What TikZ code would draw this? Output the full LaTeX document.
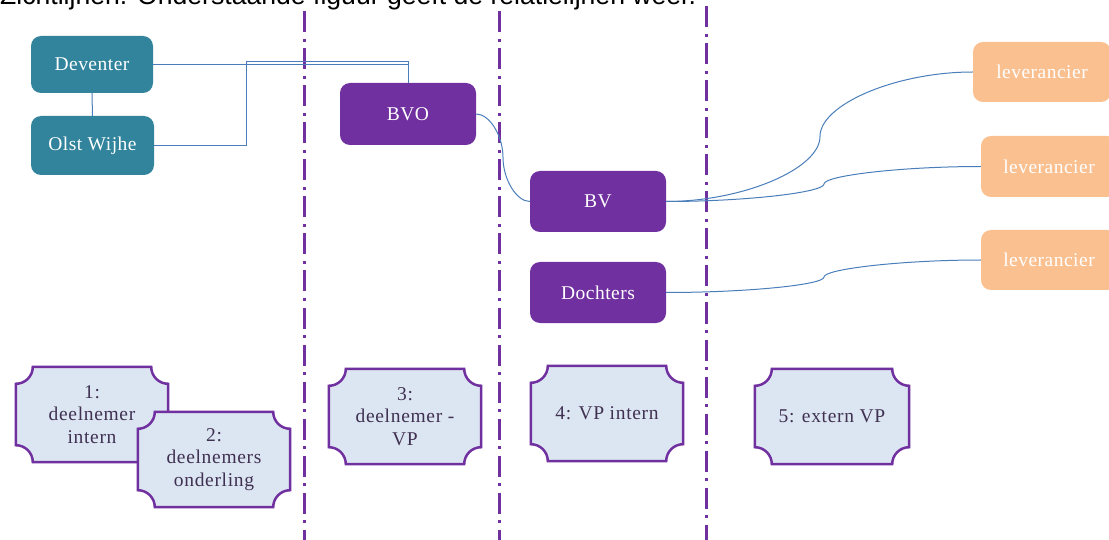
\documentclass[tikz,border=0pt]{standalone}
\usepackage{fontspec}
\setmainfont{Liberation Serif}
\newfontfamily\topfont{Liberation Sans}
\newfontfamily\lsfont[LetterSpace=2.5]{Liberation Serif}
\newfontfamily\plfont[LetterSpace=3.5]{Liberation Serif}
\usetikzlibrary{calc}
\definecolor{myteal}{HTML}{31849B}
\definecolor{mypurple}{HTML}{7030A0}
\definecolor{myorange}{HTML}{FAC090}
\definecolor{myblue}{HTML}{4A7EBB}
\definecolor{myfill}{HTML}{DCE6F2}
\definecolor{mytext}{HTML}{403152}
\tikzset{
  orgbox/.style={rounded corners=10pt, draw=none, text=white, inner sep=0pt,
    font=\lsfont\fontsize{19.5}{22}\selectfont},
  tealbox/.style={orgbox, fill=myteal},
  purplebox/.style={orgbox, fill=mypurple},
  orangebox/.style={orgbox, fill=myorange},
  link/.style={draw=myblue, line width=1pt},
  divider/.style={draw=mypurple, line width=3pt, dash pattern=on 21pt off 6.5pt on 3pt off 6.5pt},
  plq/.style={draw=mypurple, fill=myfill, line width=2.5pt},
  plqframe/.style={inner sep=0pt, minimum width=152pt, minimum height=95pt},
  plqtext/.style={text=mytext, align=center, inner sep=0pt,
    font=\plfont\fontsize{19.5}{22.5}\selectfont},
}
\newcommand\plaqueshape[1]{%
  \path[plq] let \p1=(#1.north west), \p2=(#1.south east) in
    (\x1+17pt,\y1) -- (\x2-17pt,\y1)
    .. controls (\x2-17pt,\y1-9.4pt) and (\x2-9.4pt,\y1-17pt) .. (\x2,\y1-17pt)
    -- (\x2,\y2+17pt)
    .. controls (\x2-9.4pt,\y2+17pt) and (\x2-17pt,\y2+9.4pt) .. (\x2-17pt,\y2)
    -- (\x1+17pt,\y2)
    .. controls (\x1+17pt,\y2+9.4pt) and (\x1+9.4pt,\y2+17pt) .. (\x1,\y2+17pt)
    -- (\x1,\y1-17pt)
    .. controls (\x1+9.4pt,\y1-17pt) and (\x1+17pt,\y1-9.4pt) .. (\x1+17pt,\y1)
    -- cycle;}
\begin{document}
\begin{tikzpicture}[x=1pt,y=-1pt]
\useasboundingbox (0,0) rectangle (1109,540);
\clip (0,0) rectangle (1109,540);
\fill[white] (0,0) rectangle (1109,540);

\node[anchor=base west, inner sep=0pt, font=\topfont\fontsize{26.6}{30}\selectfont] (title) at (0,4.7)
  {Zichtlijnen. Onderstaande figuur geeft de relatielijnen weer.};

% dividers
\draw[divider] (304.5,11.5) -- (304.5,545);
\draw[divider] (499.5,11.5) -- (499.5,545);
\draw[divider] (706.5,6.5) -- (706.5,545);

% organisation boxes
\node[tealbox, minimum width=122pt, minimum height=57pt] (dev) at (92,64.5) {Deventer};
\node[tealbox, minimum width=123pt, minimum height=59pt] (olst) at (92.5,145.5) {Olst Wijhe};
\node[purplebox, minimum width=136pt, minimum height=62pt] (bvo) at (408,114) {BVO};
\node[purplebox, minimum width=136pt, minimum height=61pt] (bv) at (598,201.5) {BV};
\node[purplebox, minimum width=136pt, minimum height=61pt] (doch) at (598,292.5) {Dochters};
\node[orangebox, minimum width=138pt, minimum height=60pt] (lev1) at (1042,72) {leverancier};
\node[orangebox, minimum width=136pt, minimum height=61pt] (lev2) at (1049,166.5) {leverancier};
\node[orangebox, minimum width=136pt, minimum height=60pt] (lev3) at (1049,260) {leverancier};

% connectors
\coordinate (olstbend) at (246,62);
\coordinate (m0) at (503,157.5);
\coordinate (m1) at (820,136.5);
\coordinate (m2) at (824,184);
\coordinate (m3) at (824,277);
\draw[link] (dev) -- (olst);
\draw[link] (dev.east) -| (bvo.north);
\draw[link] (olst.east) -| (olstbend) -| (bvo.north);
\draw[link] (bvo.east) .. controls (489.5,114) and (503,135.75) .. (m0)
  .. controls (503,179.25) and (516.5,201.5) .. (bv.west);
\draw[link] (bv.east) .. controls (743,201.5) and (820,168.75) .. (m1)
  .. controls (820,104.25) and (896.5,72) .. (lev1.west);
\draw[link] (bv.east) .. controls (745,201.5) and (824,192.5) .. (m2)
  .. controls (824,175.5) and (902.5,166.5) .. (lev2.west);
\draw[link] (doch.east) .. controls (745,292.5) and (824,285) .. (m3)
  .. controls (824,269) and (902.5,260) .. (lev3.west);

% relation plaques
\node[plqframe] (p1) at (92,414.5) {};
\plaqueshape{p1}
\node[plqtext] (p1t) at (p1) {1:\\deelnemer\\intern};
\node[plqframe] (p2) at (214,459.5) {};
\plaqueshape{p2}
\node[plqtext] (p2t) at (p2) {2:\\deelnemers\\onderling};
\node[plqframe] (p3) at (405,416.5) {};
\plaqueshape{p3}
\node[plqtext] (p3t) at (p3) {3:\\deelnemer -\\VP};
\node[plqframe] (p4) at (607,413.5) {};
\plaqueshape{p4}
\node[plqtext] (p4t) at (p4) {4: VP intern};
\node[plqframe, minimum width=154pt] (p5) at (832,416.5) {};
\plaqueshape{p5}
\node[plqtext] (p5t) at (p5) {5: extern VP};
\end{tikzpicture}
\end{document}
